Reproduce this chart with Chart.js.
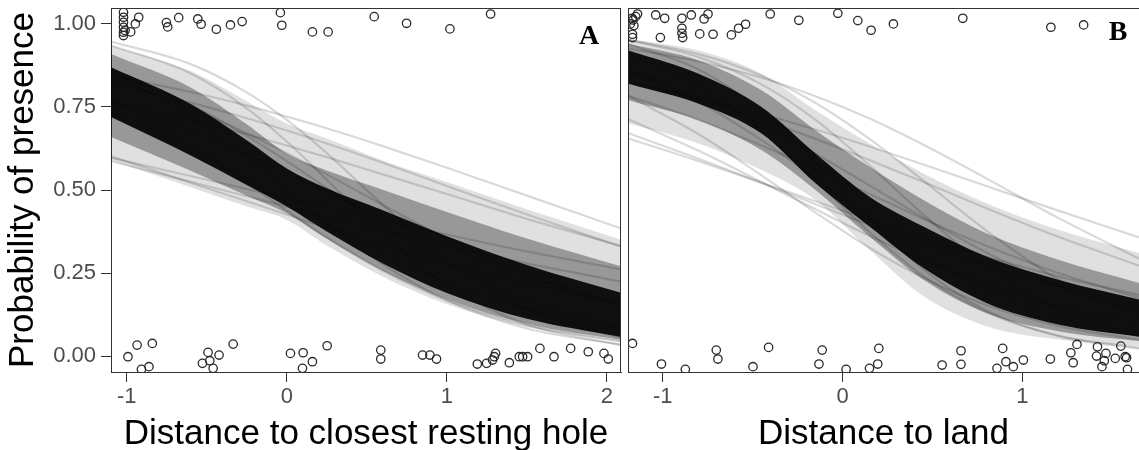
<!DOCTYPE html>
<html lang="en">
<head>
    <meta charset="UTF-8">
    <title>Probability of presence</title>
    <script src="https://cdn.jsdelivr.net/npm/chart.js"></script>
    <style>
        body { margin: 0; padding: 0; background: #fff; overflow: hidden; }
        .panel { position: absolute; top: 0; height: 450px; }
        #boxA { left: 0; width: 622px; }
        #boxB { left: 622px; width: 517px; }
    </style>
</head>
<body>
    <div class="panel" id="boxA"><canvas id="chartA"></canvas></div>
    <div class="panel" id="boxB"><canvas id="chartB"></canvas></div>
    <script>
        // axis settings
        const yRange = [-0.048, 1.048];
        const yTicks = [0, 0.25, 0.5, 0.75, 1];
        const xRangeA = [-1.098, 2.0875];
        const xTicksA = [-1, 0, 1, 2];
        const xRangeB = [-1.193, 1.649];
        const xTicksB = [-1, 0, 1];

        const gridA = [-1.1, -0.6, -0.25, 0, 0.25, 0.6, 1.0, 1.5, 2.09];
        const gridB = [-1.19, -0.8, -0.45, -0.15, 0.15, 0.45, 0.8, 1.2, 1.65];

        // panel A: how dense the fitted curves are (upper / lower edge of each band)
        const outerHiA = [0.935, 0.858, 0.767, 0.700, 0.655, 0.589, 0.524, 0.442, 0.350];
        const outerLoA = [0.590, 0.508, 0.450, 0.410, 0.333, 0.239, 0.156, 0.087, 0.042];
        const midHiA   = [0.910, 0.809, 0.698, 0.610, 0.559, 0.501, 0.434, 0.354, 0.270];
        const midLoA   = [0.660, 0.558, 0.483, 0.430, 0.353, 0.257, 0.171, 0.097, 0.048];
        const coreHiA  = [0.870, 0.759, 0.650, 0.565, 0.505, 0.439, 0.361, 0.274, 0.190];
        const coreLoA  = [0.720, 0.604, 0.515, 0.450, 0.375, 0.279, 0.190, 0.112, 0.057];

        // panel A: single faint curves
        const linesA = [
            [0.845, 0.795, 0.754, 0.721, 0.686, 0.632, 0.567, 0.483, 0.384],
            [0.821, 0.763, 0.716, 0.679, 0.640, 0.582, 0.512, 0.426, 0.329],
            [0.770, 0.713, 0.668, 0.634, 0.599, 0.547, 0.488, 0.413, 0.331],
            [0.947, 0.879, 0.794, 0.711, 0.611, 0.455, 0.289, 0.142, 0.054],
            [0.936, 0.851, 0.746, 0.646, 0.531, 0.368, 0.214, 0.095, 0.033],
            [0.856, 0.756, 0.663, 0.587, 0.506, 0.394, 0.279, 0.168, 0.086],
            [0.587, 0.525, 0.481, 0.450, 0.419, 0.378, 0.332, 0.279, 0.224],
            [0.597, 0.542, 0.503, 0.475, 0.447, 0.409, 0.366, 0.315, 0.261],
            [0.602, 0.522, 0.466, 0.426, 0.386, 0.334, 0.279, 0.218, 0.160],
            [0.775, 0.636, 0.522, 0.438, 0.357, 0.257, 0.168, 0.093, 0.044],
            [0.853, 0.723, 0.599, 0.500, 0.401, 0.277, 0.168, 0.083, 0.034],
            [0.767, 0.677, 0.605, 0.550, 0.494, 0.416, 0.332, 0.240, 0.157],
            [0.833, 0.746, 0.671, 0.611, 0.547, 0.455, 0.354, 0.245, 0.149],
            [0.743, 0.625, 0.531, 0.463, 0.395, 0.308, 0.223, 0.142, 0.080]
        ];

        // panel B: how dense the fitted curves are
        const outerHiB = [0.955, 0.920, 0.850, 0.740, 0.640, 0.550, 0.460, 0.380, 0.310];
        const outerLoB = [0.700, 0.640, 0.560, 0.470, 0.320, 0.180, 0.090, 0.050, 0.030];
        const midHiB   = [0.940, 0.890, 0.800, 0.680, 0.570, 0.470, 0.370, 0.290, 0.220];
        const midLoB   = [0.770, 0.710, 0.620, 0.500, 0.360, 0.230, 0.130, 0.075, 0.045];
        const coreHiB  = [0.920, 0.850, 0.750, 0.610, 0.480, 0.390, 0.300, 0.230, 0.170];
        const coreLoB  = [0.820, 0.760, 0.670, 0.520, 0.390, 0.265, 0.160, 0.095, 0.058];

        // panel B: single faint curves
        const linesB = [
            [0.824, 0.777, 0.729, 0.682, 0.631, 0.577, 0.512, 0.438, 0.357],
            [0.828, 0.772, 0.712, 0.654, 0.590, 0.524, 0.445, 0.359, 0.272],
            [0.952, 0.909, 0.844, 0.762, 0.654, 0.528, 0.378, 0.231, 0.120],
            [0.952, 0.900, 0.818, 0.711, 0.574, 0.426, 0.269, 0.142, 0.063],
            [0.671, 0.594, 0.521, 0.457, 0.395, 0.336, 0.273, 0.211, 0.154],
            [0.655, 0.587, 0.522, 0.466, 0.410, 0.357, 0.299, 0.240, 0.184],
            [0.713, 0.618, 0.524, 0.442, 0.362, 0.290, 0.218, 0.152, 0.098],
            [0.909, 0.815, 0.678, 0.529, 0.374, 0.241, 0.132, 0.062, 0.025],
            [0.939, 0.863, 0.738, 0.585, 0.415, 0.262, 0.137, 0.060, 0.022],
            [0.858, 0.784, 0.697, 0.609, 0.514, 0.417, 0.312, 0.212, 0.131],
            [0.784, 0.711, 0.634, 0.562, 0.488, 0.413, 0.332, 0.250, 0.175],
            [0.859, 0.765, 0.650, 0.535, 0.416, 0.306, 0.201, 0.117, 0.061],
            [0.926, 0.887, 0.838, 0.782, 0.715, 0.636, 0.535, 0.416, 0.293],
            [0.783, 0.668, 0.544, 0.432, 0.326, 0.236, 0.154, 0.091, 0.049]
        ];

        // observations (jittered around 0 and 1)
        const presA = [
            [-1.02, 1.035], [-1.02, 1.02], [-1.02, 1.005], [-1.02, 0.99], [-1.02, 0.975],
            [-1.02, 0.965], [-1.01, 0.98], [-0.975, 0.976], [-0.946, 1.0], [-0.925, 1.02],
            [-0.752, 1.004], [-0.744, 0.991], [-0.675, 1.019], [-0.556, 1.015], [-0.535, 0.999],
            [-0.44, 0.984], [-0.352, 0.997], [-0.279, 1.007], [-0.04, 1.034], [-0.031, 0.996],
            [0.16, 0.976], [0.258, 0.976], [0.546, 1.022], [0.748, 1.002], [1.019, 0.985], [1.273, 1.03]
        ];
        const absA = [
            [-0.992, -0.002], [-0.935, 0.033], [-0.908, -0.04], [-0.861, -0.032], [-0.84, 0.038],
            [-0.527, -0.022], [-0.492, 0.011], [-0.481, -0.014], [-0.46, -0.037], [-0.423, 0.003],
            [-0.335, 0.036], [0.023, 0.008], [0.102, 0.01], [0.098, -0.037], [0.16, -0.017],
            [0.252, 0.031], [0.587, 0.018], [0.587, -0.009], [0.848, 0.003], [0.894, 0.003],
            [0.935, -0.009], [1.19, -0.024], [1.248, -0.022], [1.285, -0.012], [1.296, -0.002],
            [1.304, 0.008], [1.39, -0.02], [1.452, -0.002], [1.473, -0.002], [1.504, -0.002],
            [1.581, 0.023], [1.669, -0.002], [1.773, 0.023], [1.883, 0.013], [1.981, 0.008], [2.008, -0.009]
        ];
        const presB = [
            [-1.18, 1.0], [-1.165, 1.012], [-1.15, 1.022], [-1.16, 0.995], [-1.14, 1.03],
            [-1.17, 1.017], [-1.168, 0.969], [-1.168, 0.959], [-1.039, 1.027], [-1.013, 0.959],
            [-0.989, 1.017], [-0.893, 1.017], [-0.893, 0.987], [-0.893, 0.972], [-0.889, 0.959],
            [-0.841, 1.027], [-0.794, 0.97], [-0.77, 1.015], [-0.748, 1.03], [-0.72, 0.969],
            [-0.618, 0.967], [-0.578, 0.987], [-0.539, 0.999], [-0.402, 1.03], [-0.243, 1.011],
            [-0.026, 1.032], [0.085, 1.01], [0.159, 0.981], [0.283, 1.0], [0.669, 1.017],
            [1.159, 0.99], [1.341, 0.997]
        ];
        const absB = [
            [-1.168, 0.038], [-1.007, -0.024], [-0.874, -0.04], [-0.702, 0.018], [-0.693, -0.009],
            [-0.498, -0.032], [-0.411, 0.026], [-0.131, -0.024], [-0.113, 0.018], [0.02, -0.04],
            [0.15, -0.037], [0.196, -0.024], [0.202, 0.023], [0.554, -0.027], [0.659, 0.016],
            [0.659, -0.025], [0.859, -0.037], [0.891, 0.023], [0.909, -0.017], [0.95, -0.032],
            [1.006, -0.012], [1.156, -0.009], [1.27, 0.01], [1.283, -0.02], [1.304, 0.035],
            [1.418, 0.028], [1.413, 0.0], [1.443, -0.032], [1.465, 0.008], [1.456, -0.014],
            [1.517, -0.007], [1.548, 0.03], [1.572, -0.002], [1.58, -0.005], [1.585, -0.04]
        ];

        const sans = 'Liberation Sans, Arial, sans-serif';
        const bandColors = ['rgba(0,0,0,0.12)', 'rgba(0,0,0,0.32)', 'rgba(0,0,0,0.9)'];

        // draws top/right frame and the panel letter
        const framePlugin = {
            id: 'frame',
            afterDraw(chart, args, opts) {
                const { ctx, chartArea: a } = chart;
                ctx.save();
                ctx.strokeStyle = '#333';
                ctx.lineWidth = 1;
                ctx.beginPath();
                ctx.moveTo(a.left, a.top + 0.5);
                ctx.lineTo(a.right, a.top + 0.5);
                if (opts.right) {
                    ctx.moveTo(a.right - 0.5, a.top);
                    ctx.lineTo(a.right - 0.5, a.bottom);
                }
                ctx.stroke();
                ctx.fillStyle = '#000';
                ctx.font = 'bold 28px Liberation Serif, Times New Roman, serif';
                ctx.textAlign = 'center';
                ctx.textBaseline = 'middle';
                ctx.fillText(opts.label, a.right + opts.dx, a.top + opts.dy);
                ctx.restore();
            }
        };

        function makePanel(id, p) {
            const toXY = ys => p.grid.map((x, i) => ({ x: x, y: ys[i] }));
            const datasets = [{
                data: p.points.map(([x, y]) => ({ x: x, y: y })),
                showLine: false,
                pointRadius: 4.2,
                pointBorderWidth: 1.3,
                pointBorderColor: '#2a2a2a',
                pointBackgroundColor: 'rgba(0,0,0,0)'
            }];
            p.lines.forEach(ys => datasets.push({
                data: toXY(ys),
                borderColor: 'rgba(0,0,0,0.15)',
                borderWidth: 2.2,
                pointRadius: 0,
                cubicInterpolationMode: 'monotone',
                fill: false
            }));
            p.bands.forEach(([hi, lo], k) => {
                datasets.push({
                    data: toXY(hi), borderColor: 'rgba(0,0,0,0)', borderWidth: 1, pointRadius: 0,
                    cubicInterpolationMode: 'monotone', fill: '+1', backgroundColor: bandColors[k]
                });
                datasets.push({
                    data: toXY(lo), borderColor: 'rgba(0,0,0,0)', borderWidth: 1, pointRadius: 0,
                    cubicInterpolationMode: 'monotone', fill: false
                });
            });

            return new Chart(document.getElementById(id), {
                type: 'line',
                data: { datasets: datasets },
                plugins: [framePlugin],
                options: {
                    responsive: true,
                    maintainAspectRatio: false,
                    animation: false,
                    layout: { autoPadding: false, padding: { top: 8, right: p.padRight, left: 0, bottom: 0 } },
                    plugins: {
                        legend: { display: false },
                        tooltip: { enabled: false },
                        frame: { right: p.frameRight, label: p.label, dx: p.labelDx, dy: p.labelDy }
                    },
                    scales: {
                        x: {
                            type: 'linear',
                            min: p.xRange[0],
                            max: p.xRange[1],
                            afterBuildTicks: s => { s.ticks = p.xTicks.map(v => ({ value: v })); },
                            afterFit: s => { s.height = 78; s.paddingLeft = 0; s.paddingRight = 0; },
                            grid: { drawOnChartArea: false, drawTicks: true, tickLength: 10, tickColor: '#333' },
                            border: { color: '#333', width: 1 },
                            ticks: { color: '#4d4d4d', padding: 2, maxRotation: 0, font: { family: sans, size: 22 } },
                            title: {
                                display: true, text: p.xTitle, color: '#000',
                                padding: 0, font: { family: sans, size: 35, lineHeight: 0.9 }
                            }
                        },
                        y: {
                            type: 'linear',
                            min: yRange[0],
                            max: yRange[1],
                            afterBuildTicks: s => { s.ticks = yTicks.map(v => ({ value: v })); },
                            afterFit: s => { s.width = p.yWidth; s.paddingTop = 0; s.paddingBottom = 0; },
                            grid: { drawOnChartArea: false, drawTicks: p.showY, tickLength: 10, tickColor: '#333' },
                            border: { color: '#333', width: 1 },
                            ticks: {
                                display: p.showY, color: '#4d4d4d', padding: 5,
                                font: { family: sans, size: 22 },
                                callback: v => v.toFixed(2)
                            },
                            title: {
                                display: p.showY, text: 'Probability of presence', color: '#000',
                                padding: { top: 6, bottom: 0 }, font: { family: sans, size: 35, lineHeight: 1 }
                            }
                        }
                    }
                }
            });
        }

        makePanel('chartA', {
            grid: gridA, xRange: xRangeA, xTicks: xTicksA,
            points: presA.concat(absA), lines: linesA,
            bands: [[outerHiA, outerLoA], [midHiA, midLoA], [coreHiA, coreLoA]],
            xTitle: 'Distance to closest resting hole', yWidth: 111, showY: true,
            padRight: 1, frameRight: true, label: 'A', labelDx: -32, labelDy: 29
        });

        makePanel('chartB', {
            grid: gridB, xRange: xRangeB, xTicks: xTicksB,
            points: presB.concat(absB), lines: linesB,
            bands: [[outerHiB, outerLoB], [midHiB, midLoB], [coreHiB, coreLoB]],
            xTitle: 'Distance to land', yWidth: 6, showY: false,
            padRight: 0, frameRight: false, label: 'B', labelDx: -21, labelDy: 25
        });
    </script>
</body>
</html>
